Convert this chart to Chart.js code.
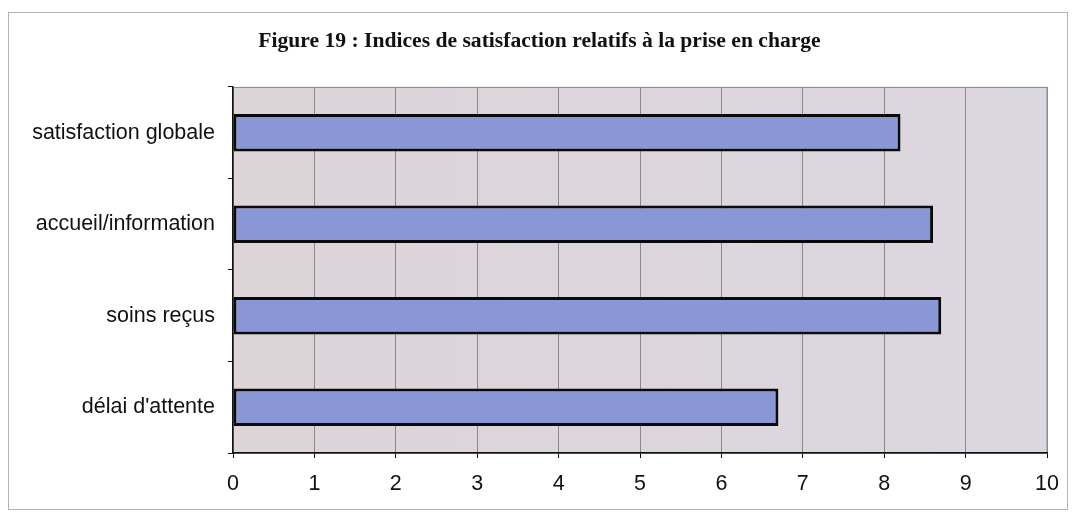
<!DOCTYPE html>
<html>
<head>
<meta charset="utf-8">
<script src="https://cdn.jsdelivr.net/npm/chart.js@4.4.0/dist/chart.umd.min.js"></script>
<style>
  body { margin: 0; background: #fff; }
  #wrap { width: 1072px; height: 515px; }
</style>
</head>
<body>
<div id="wrap"><canvas id="satChart" width="1072" height="515"></canvas></div>
<script>
// données
const categories = ["satisfaction globale", "accueil/information", "soins reçus", "délai d'attente"];
const indices = [8.2, 8.6, 8.7, 6.7];
const xTicks = [0, 1, 2, 3, 4, 5, 6, 7, 8, 9, 10];

const titleText = "Figure 19 : Indices de satisfaction relatifs à la prise en charge";

// fond du graphique + cadre extérieur
const frame = {
    id: "frame",
    beforeDraw(chart) {
        const c = chart.ctx;
        const a = chart.chartArea;
        c.save();
        c.strokeStyle = "#b4b4b4";
        c.lineWidth = 1;
        c.strokeRect(8.5, 12.5, 1059, 497);
        let grad = c.createLinearGradient(a.left, 0, a.right, 0);
        grad.addColorStop(0, "#ddd4d8");
        grad.addColorStop(1, "#dbd7e0");
        c.fillStyle = grad;
        c.fillRect(a.left, a.top, a.right - a.left, a.bottom - a.top);
        c.strokeStyle = "#8a8a8a";
        c.strokeRect(a.left, a.top + 0.5, a.right - a.left, a.bottom - a.top);
        c.restore();
    }
};

let ctx = document.getElementById("satChart").getContext("2d");

let chart = new Chart(ctx, {
    type: "bar",
    data: {
        labels: categories,
        datasets: [{
            data: indices,
            backgroundColor: "#8a97d7",
            borderColor: "#0a0a0a",
            borderWidth: 3,
            borderSkipped: false,
            categoryPercentage: 1,
            barPercentage: 0.41
        }]
    },
    options: {
        indexAxis: "y",
        responsive: false,
        animation: false,
        layout: { padding: { left: 30, right: 23, top: 0, bottom: 0 } },
        plugins: {
            legend: { display: false },
            tooltip: { enabled: false },
            title: {
                display: true,
                text: titleText,
                color: "#111",
                font: { family: "'Liberation Serif', 'Times New Roman', serif", size: 21.6, weight: "bold", lineHeight: 1.2 },
                padding: { top: 28, bottom: 33 }
            }
        },
        scales: {
            x: {
                min: 0,
                max: 10,
                afterBuildTicks: scale => {
                    scale.ticks = xTicks.map(v => ({ value: v }));
                },
                afterFit: scale => { scale.height = 62; },
                ticks: {
                    color: "#111",
                    padding: 13,
                    font: { family: "'Liberation Sans', Arial, sans-serif", size: 21.5 }
                },
                grid: {
                    color: "#8a8a8a",
                    tickColor: "#111",
                    tickLength: 5,
                    lineWidth: 1
                },
                border: { color: "#111", width: 1.5 }
            },
            y: {
                afterFit: scale => { scale.width = 203; },
                ticks: {
                    color: "#111",
                    padding: 13,
                    font: { family: "'Liberation Sans', Arial, sans-serif", size: 21.5 }
                },
                grid: {
                    offset: true,
                    drawOnChartArea: false,
                    tickColor: "#111",
                    tickLength: 5
                },
                border: { color: "#111", width: 1.5 }
            }
        }
    },
    plugins: [frame]
});
</script>
</body>
</html>
